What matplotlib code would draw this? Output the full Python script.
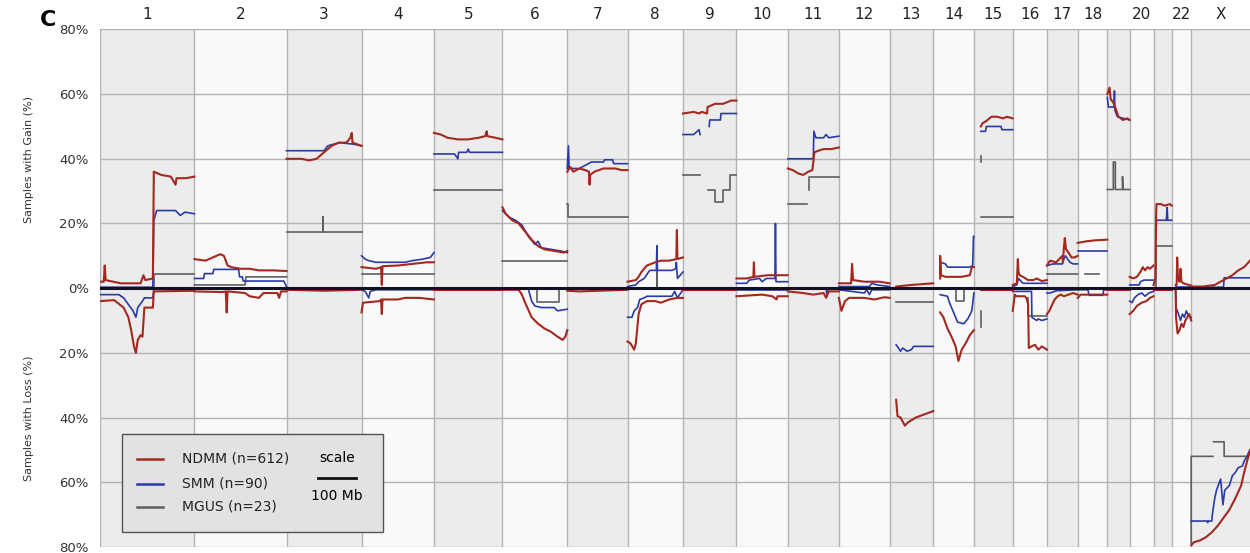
import numpy as np
import matplotlib.pyplot as plt
from matplotlib.patches import Rectangle
import matplotlib.transforms as mtransforms

# chromosome order, sizes (Mb) and the labels printed along the top
CHROMS = [str(i) for i in range(1, 23)] + ["X"]
CHROM_LEN = [249.3, 243.2, 198.0, 191.2, 180.9, 171.1, 159.1, 146.4, 141.2, 135.5,
             135.0, 133.9, 115.2, 107.3, 102.5, 90.4, 81.2, 78.1, 59.1, 63.0,
             48.1, 51.3, 155.3]
CHROM_LABELS = ["1", "2", "3", "4", "5", "6", "7", "8", "9", "10", "11", "12",
                "13", "14", "15", "16", "17", "18", "", "20", "", "22", "X"]

# (position along chromosome 0-1, % of samples); None breaks the line
NDMM_GAIN = {
    "1": [(0, 2), (0.04, 2), (0.05, 7), (0.06, 2.5), (0.22, 1.5), (0.43, 1.5), (0.46, 4), (0.48, 2.5),
          (0.56, 3), (0.57, 36), (0.65, 35), (0.75, 34.5), (0.8, 32), (0.81, 34), (0.91, 34), (1, 34.5)],
    "2": [(0, 9), (0.12, 8.5), (0.2, 9.5), (0.28, 10.5), (0.32, 10), (0.36, 7), (0.4, 6.5), (0.5, 6),
          (0.6, 6), (0.7, 5.5), (0.85, 5.5), (1, 5.3)],
    "3": [(0, 40), (0.2, 40), (0.3, 39.5), (0.4, 40), (0.5, 42), (0.6, 44), (0.7, 45), (0.8, 45),
          (0.85, 46.5), (0.87, 48), (0.88, 45), (1, 44)],
    "4": [(0, 6.5), (0.2, 6), (0.27, 6.5), (0.28, 1), (0.29, 6.8), (0.5, 7), (0.7, 7.5), (0.9, 8), (1, 8)],
    "5": [(0, 48), (0.1, 47.5), (0.2, 46.5), (0.35, 46), (0.5, 46), (0.65, 46.5), (0.75, 47),
          (0.77, 48.5), (0.78, 47), (0.9, 46.5), (1, 46)],
    "6": [(0, 25), (0.05, 23), (0.15, 21), (0.25, 20), (0.35, 17.5), (0.45, 15), (0.55, 13),
          (0.65, 12), (0.8, 11.5), (0.95, 11), (1, 11.5)],
    "7": [(0, 36), (0.05, 37.5), (0.1, 36), (0.2, 37), (0.3, 36.5), (0.36, 36), (0.37, 32), (0.38, 35),
          (0.45, 36), (0.6, 37), (0.8, 37), (0.9, 36.5), (1, 36.5)],
    "8": [(0, 2), (0.15, 2.5), (0.2, 3.5), (0.25, 5), (0.35, 7), (0.5, 8), (0.6, 8.5), (0.75, 8.5),
          (0.88, 9), (0.89, 18), (0.9, 9), (1, 9.5)],
    "9": [(0, 54), (0.2, 54.5), (0.3, 54), (0.35, 54.5), (0.45, 54), (0.46, 56), (0.6, 57), (0.75, 57),
          (0.9, 58), (1, 58)],
    "10": [(0, 3), (0.2, 3), (0.33, 3.5), (0.34, 8), (0.35, 3.5), (0.6, 4), (0.8, 4), (1, 4)],
    "11": [(0, 37), (0.1, 36.5), (0.2, 35.5), (0.3, 35), (0.4, 36), (0.48, 36.5), (0.5, 39), (0.52, 42),
           (0.6, 42.5), (0.7, 43), (0.85, 43), (1, 43.5)],
    "12": [(0, 1.5), (0.24, 1.5), (0.26, 7.5), (0.28, 2.5), (0.5, 2), (0.8, 2), (1, 1.5)],
    "13": [(0.15, 0.5), (0.5, 1), (1, 1.5)],
    "14": [(0.17, 3), (0.17, 10), (0.19, 4), (0.3, 3.5), (0.5, 3.5), (0.7, 3.5), (0.9, 4), (0.95, 6.5),
           (1, 6.5)],
    "15": [(0.18, 50), (0.22, 51), (0.3, 51.5), (0.45, 53), (0.6, 53), (0.75, 52.5), (0.85, 53), (1, 52.5)],
    "16": [(0, 1), (0.12, 1.5), (0.15, 9), (0.17, 5), (0.2, 4), (0.3, 3.5), (0.45, 2.5), (0.6, 2.5),
           (0.7, 3), (0.85, 2.2), (1, 2.5)],
    "17": [(0, 7), (0.1, 8.5), (0.3, 8), (0.4, 9), (0.5, 10), (0.52, 8), (0.55, 12.5), (0.58, 15.5),
           (0.62, 12), (0.7, 11), (0.8, 9.5), (0.9, 9.5), (1, 10)],
    "18": [(0, 14), (0.3, 14.5), (0.6, 14.8), (1, 15)],
    "19": [(0, 60), (0.1, 62), (0.15, 58.5), (0.3, 57), (0.4, 55), (0.5, 53), (0.7, 52), (0.9, 52.5), (1, 52)],
    "20": [(0, 3.5), (0.15, 3), (0.3, 3.5), (0.45, 5), (0.55, 6.5), (0.65, 5.5), (0.75, 6.5), (0.85, 6), (1, 7)],
    "21": [(0, 1), (0.1, 3), (0.12, 10), (0.14, 22), (0.16, 26), (0.4, 26), (0.6, 25.5), (0.9, 26), (1, 25.5)],
    "22": [(0.2, 1), (0.25, 1), (0.28, 9.5), (0.32, 3), (0.4, 2), (0.45, 6), (0.5, 2), (0.6, 1.5), (1, 0.8)],
    "X": [(0, 0.5), (0.2, 0.5), (0.4, 1), (0.5, 2), (0.6, 3), (0.7, 4), (0.8, 5.5), (0.9, 6.5), (1, 8.5)],
}

SMM_GAIN = {
    "1": [(0, 0.3), (0.56, 0.3), (0.57, 21), (0.6, 24), (0.8, 24), (0.85, 22.5), (0.9, 23.5), (1, 23)],
    "2": [(0, 3), (0.1, 3), (0.11, 4.5), (0.2, 4.5), (0.21, 5.8), (0.48, 5.8), (0.49, 3.5), (0.52, 3.5),
          (0.53, 2.2), (0.97, 2.2), (1, 0.5)],
    "3": [(0, 42.5), (0.5, 42.5), (0.55, 44), (0.7, 45), (0.9, 44.5), (1, 44)],
    "4": [(0, 10), (0.05, 9), (0.1, 8.5), (0.2, 8), (0.6, 8), (0.7, 8.5), (0.85, 9), (0.95, 9.5), (1, 11)],
    "5": [(0, 41.5), (0.3, 41.5), (0.35, 40), (0.36, 42), (0.48, 42), (0.5, 43), (0.52, 42), (1, 42)],
    "6": [(0, 24), (0.1, 22), (0.2, 21), (0.3, 19.5), (0.4, 16), (0.5, 13.5), (0.55, 14.5), (0.6, 12.5),
          (0.75, 12), (0.9, 11.5), (1, 11)],
    "7": [(0, 37), (0.02, 44), (0.03, 37), (0.2, 37), (0.35, 38.5), (0.4, 39), (0.6, 39), (0.62, 39.7),
          (0.75, 39.7), (0.77, 38.5), (1, 38.5)],
    "8": [(0, 0.5), (0.15, 1), (0.2, 2), (0.3, 3), (0.4, 5.5), (0.52, 5.5), (0.53, 13), (0.54, 5.5),
          (0.8, 5.5), (0.87, 6), (0.88, 8), (0.9, 3), (1, 5)],
    "9": [(0, 47.5), (0.2, 47.5), (0.3, 49), (0.32, 47.5), None, (0.49, 50), (0.5, 52), (0.7, 52),
          (0.71, 54), (1, 54)],
    "10": [(0, 1.5), (0.2, 1.5), (0.25, 2.5), (0.45, 3), (0.5, 2), (0.58, 3), (0.75, 3), (0.76, 20),
           (0.77, 2), (1, 2)],
    "11": [(0, 40), (0.5, 40), (0.51, 48.5), (0.55, 46.5), (0.7, 46.5), (0.75, 47.5), (0.8, 46.5), (1, 47)],
    "12": [(0, 0.5), (0.6, 0.5), (0.65, 1.5), (0.75, 1), (1, 0.5)],
    "14": [(0.17, 8), (0.3, 7.5), (0.35, 6.5), (0.9, 6.5), (0.97, 7), (0.99, 16), (1, 16)],
    "15": [(0.18, 48.5), (0.3, 48.5), (0.32, 50), (0.7, 50), (0.72, 49), (1, 49)],
    "16": [(0, 0.5), (0.12, 1), (0.17, 3), (0.3, 1.5), (1, 1.5)],
    "17": [(0, 7), (0.2, 7.5), (0.5, 7.5), (0.55, 9), (0.6, 10), (0.75, 8), (0.85, 7.5), (1, 7.5)],
    "18": [(0, 11.5), (1, 11.5)],
    "19": [(0, 59), (0.05, 56), (0.3, 56), (0.32, 61), (0.34, 55), (0.45, 53), (1, 52)],
    "20": [(0, 1), (0.4, 1), (0.45, 2), (0.6, 2.5), (1, 2.5)],
    "21": [(0.14, 18), (0.16, 21), (0.7, 21), (0.75, 25), (0.78, 21), (1, 21)],
    "22": [(0.2, 0.5), (1, 0.5)],
    "X": [(0, 0.3), (0.55, 0.3), (0.56, 3.2), (1, 3.2)],
}

MGUS_GAIN = {
    "1": [(0, 0), (0.57, 0), (0.57, 4.5), (1, 4.5)],
    "2": [(0, 1), (0.55, 1), (0.56, 3.5), (1, 3.5)],
    "3": [(0, 17.5), (0.49, 17.5), (0.49, 22), (0.49, 17.5), (1, 17.5)],
    "4": [(0, 4.5), (1, 4.5)],
    "5": [(0, 30.5), (1, 30.5)],
    "6": [(0, 8.5), (1, 8.5)],
    "7": [(0, 26), (0.01, 26), (0.01, 22), (1, 22)],
    "8": [(0, 0), (0.53, 0), (0.53, 13), (0.53, 0), (1, 0)],
    "9": [(0, 35), (0.32, 35), None, (0.47, 30.5), (0.6, 30.5), (0.6, 26.5), (0.75, 26.5), (0.75, 30.5),
          (0.88, 30.5), (0.88, 35), (1, 35)],
    "11": [(0, 26), (0.37, 26), None, (0.41, 30.5), (0.41, 34.5), (1, 34.5)],
    "15": [(0.18, 39), (0.18, 41), None, (0.18, 22), (1, 22)],
    "17": [(0, 4.5), (1, 4.5)],
    "18": [(0.23, 4.5), (0.73, 4.5)],
    "19": [(0, 30.5), (0.27, 30.5), (0.27, 39), (0.36, 39), (0.36, 30.5), (0.68, 30.5), (0.68, 34.5),
           (0.7, 30.5), (1, 30.5)],
    "21": [(0.14, 0), (0.14, 13), (1, 13)],
}

NDMM_LOSS = {
    "1": [(0, 4), (0.15, 3.7), (0.25, 6), (0.3, 9), (0.33, 13), (0.36, 18), (0.38, 20), (0.4, 16),
          (0.43, 14.5), (0.45, 15), (0.47, 6), (0.56, 6), (0.57, 1), (1, 0.8)],
    "2": [(0, 1), (0.3, 1.2), (0.34, 1), (0.35, 7.5), (0.36, 1), (0.55, 1.5), (0.6, 2.5), (0.7, 3),
          (0.75, 1.5), (0.9, 1.5), (0.92, 3), (0.94, 1), (1, 1)],
    "3": [(0, 0.5), (0.5, 0.8), (1, 0.5)],
    "4": [(0, 7.5), (0.02, 4.5), (0.25, 4), (0.27, 3.5), (0.28, 8), (0.29, 3.5), (0.5, 3.5), (0.6, 3),
          (0.8, 3), (1, 3.5)],
    "5": [(0, 0.5), (1, 0.5)],
    "6": [(0, 0.5), (0.25, 0.5), (0.3, 2), (0.35, 4.5), (0.45, 9), (0.55, 11), (0.65, 12.5), (0.75, 13.5),
          (0.85, 15), (0.93, 16), (0.97, 15), (1, 13)],
    "7": [(0, 0.8), (0.2, 1), (1, 0.5)],
    "8": [(0, 16.5), (0.05, 17), (0.12, 19), (0.15, 17), (0.2, 8), (0.25, 5), (0.35, 4), (0.5, 4),
          (0.6, 4.5), (0.75, 3.5), (0.9, 3), (1, 3)],
    "9": [(0, 0.5), (1, 0.5)],
    "10": [(0, 2.5), (0.2, 2.3), (0.5, 2), (0.7, 2.5), (0.78, 3.5), (0.8, 2.5), (1, 2.5)],
    "11": [(0, 1), (0.3, 1.5), (0.5, 2), (0.7, 1.5), (0.75, 3), (0.8, 1), (1, 1)],
    "12": [(0, 3), (0.05, 7), (0.12, 4), (0.2, 3), (0.5, 3), (0.7, 3.5), (0.9, 2.8), (1, 3)],
    "13": [(0.15, 34.5), (0.18, 39.5), (0.25, 40), (0.35, 42.5), (0.42, 41.5), (0.6, 40), (0.8, 39), (1, 38)],
    "14": [(0.17, 7.5), (0.25, 9), (0.35, 12.5), (0.45, 15), (0.55, 18), (0.62, 22.5), (0.7, 19), (0.8, 17),
           (0.9, 14.5), (1, 13)],
    "15": [(0.18, 0.5), (1, 0.5)],
    "16": [(0, 7), (0.06, 2), (0.1, 2.5), (0.35, 2.5), (0.4, 3), (0.45, 5), (0.47, 18.5), (0.55, 18),
           (0.65, 17.5), (0.75, 19), (0.85, 18), (1, 19)],
    "17": [(0, 8), (0.08, 7), (0.15, 5.5), (0.25, 3.5), (0.35, 2.5), (0.45, 2), (0.55, 2.5), (0.7, 2),
           (0.85, 1.5), (1, 2)],
    "18": [(0, 3), (0.1, 2), (1, 2)],
    "19": [(0, 0.5), (1, 0.5)],
    "20": [(0, 8), (0.15, 7), (0.3, 5.5), (0.5, 4.5), (0.7, 4), (0.85, 3), (1, 2.5)],
    "21": [(0, 0.5), (1, 0.5)],
    "22": [(0.2, 0.5), (0.22, 9), (0.3, 14), (0.4, 13), (0.5, 11), (0.6, 12), (0.7, 10), (0.8, 9),
           (0.9, 8), (1, 10)],
    "X": [(0, 79.5), (0.05, 78.5), (0.15, 78), (0.25, 77), (0.35, 75.5), (0.45, 73.5), (0.55, 71),
          (0.65, 68.5), (0.75, 65), (0.85, 61), (0.9, 57), (0.95, 53.5), (1, 50.5)],
}

SMM_LOSS = {
    "1": [(0, 2), (0.2, 2), (0.25, 3), (0.3, 5), (0.35, 7), (0.38, 9), (0.4, 6), (0.45, 4), (0.47, 3),
          (0.56, 3), (0.57, 0.3), (1, 0.3)],
    "4": [(0, 0.5), (0.05, 1), (0.1, 3), (0.12, 1), (0.2, 0.5), (1, 0.5)],
    "6": [(0, 0.3), (0.4, 0.3), (0.45, 4), (0.5, 5.5), (0.6, 6), (0.8, 6), (0.85, 7), (1, 6.5)],
    "8": [(0, 9), (0.08, 9), (0.12, 7), (0.18, 6), (0.22, 3.5), (0.3, 3), (0.35, 2.5), (0.8, 2.5),
          (0.85, 1), (0.9, 3), (1, 0.5)],
    "10": [(0, 0.5), (1, 0.5)],
    "11": [(0, 0.3), (0.75, 0.3), (0.77, 2.5), (0.79, 0.3), (1, 0.3)],
    "12": [(0, 0.5), (0.5, 1.5), (0.55, 0.5), (0.6, 2), (0.65, 0.5), (1, 0.5)],
    "13": [(0.15, 17.5), (0.2, 18.5), (0.25, 19.5), (0.3, 18.5), (0.4, 19.5), (0.5, 19), (0.55, 18), (1, 18)],
    "14": [(0.17, 2), (0.35, 2.5), (0.4, 4.5), (0.5, 7.5), (0.6, 10.5), (0.75, 11), (0.85, 9.5), (0.95, 7),
           (1, 1.5)],
    "16": [(0, 1), (0.55, 1), (0.56, 9), (0.7, 10), (0.75, 9.5), (0.85, 10), (1, 9.5)],
    "17": [(0, 1.5), (0.1, 1.5), (0.3, 0.8), (1, 0.5)],
    "18": [(0, 0.5), (0.35, 0.5), (0.38, 2.2), (0.85, 2.2), (0.88, 0.5), (1, 0.5)],
    "20": [(0, 4), (0.1, 4.5), (0.2, 3), (0.35, 2), (0.5, 1.5), (0.65, 2.5), (0.8, 1.5), (1, 1)],
    "22": [(0.2, 0.5), (0.22, 6), (0.35, 8), (0.45, 10), (0.55, 8), (0.65, 9), (0.75, 7), (0.85, 8.5), (1, 9)],
    "X": [(0, 72), (0.27, 72), (0.28, 72.5), (0.29, 72), (0.35, 72), (0.36, 70), (0.4, 65), (0.43, 62.5),
          (0.5, 59), (0.54, 67), (0.57, 62.5), (0.65, 61), (0.7, 58), (0.75, 57), (0.8, 55.5), (0.87, 55),
          (0.9, 53.5), (0.95, 52), (1, 50)],
}

MGUS_LOSS = {
    "6": [(0.5, 0), (0.53, 0), (0.53, 4.3), (0.87, 4.3), (0.87, 0)],
    "13": [(0.15, 4.3), (1, 4.3)],
    "14": [(0.55, 0), (0.55, 4), (0.75, 4), (0.75, 0)],
    "15": [(0.18, 7), (0.18, 12)],
    "16": [(0.44, 3), (0.44, 8.5), (1, 8.5)],
    "X": [(0, 79), (0, 52), (0.37, 52), None, (0.38, 47.5), (0.56, 47.5), (0.56, 52), (0.95, 52), (1, 50)],
}

SERIES = [
    ("MGUS (n=23)", "#5f5f5f", 1.2, MGUS_GAIN, MGUS_LOSS),
    ("SMM (n=90)", "#2b3aa6", 1.2, SMM_GAIN, SMM_LOSS),
    ("NDMM (n=612)", "#a3281f", 1.5, NDMM_GAIN, NDMM_LOSS),
]

starts = np.concatenate([[0], np.cumsum(CHROM_LEN)[:-1]])
total = float(np.sum(CHROM_LEN))


def to_xy(chrom, pts, sign):
    i = CHROMS.index(chrom)
    xs, ys = [], []
    for p in pts:
        if p is None:
            xs.append(np.nan)
            ys.append(np.nan)
        else:
            xs.append(starts[i] + p[0] * CHROM_LEN[i])
            ys.append(sign * p[1])
    return xs, ys


plt.rcParams['font.family'] = ['DejaVu Sans']
fig = plt.figure(figsize=(12.5, 5.53), dpi=100)
ax = fig.add_axes([0.08, 0.011, 0.92, 0.9358])

# alternating chromosome bands
for i, c in enumerate(CHROMS):
    col = "#ececec" if i % 2 == 0 else "#f9f9f9"
    ax.axvspan(starts[i], starts[i] + CHROM_LEN[i], color=col, lw=0, zorder=0)
    ax.axvline(starts[i], color="#b3b3b3", lw=1.0, zorder=1)
for yv in range(-80, 81, 20):
    if yv != 0:
        ax.axhline(yv, color="#b3b3b3", lw=1.0, zorder=1)

for name, color, lw, gain, loss in SERIES:
    for c, pts in gain.items():
        xs, ys = to_xy(c, pts, 1)
        ax.plot(xs, ys, color=color, lw=lw, zorder=3)
    for c, pts in loss.items():
        xs, ys = to_xy(c, pts, -1)
        ax.plot(xs, ys, color=color, lw=lw, zorder=3)

ax.axhline(0, color="#111122", lw=2.2, zorder=4)

ax.set_xlim(0, total)
ax.set_ylim(-80, 80)
ax.set_yticks(range(-80, 81, 20))
ax.set_yticklabels([f"{abs(v)}%" for v in range(-80, 81, 20)], fontsize=9.5, color="#333333")
ax.xaxis.tick_top()
ax.set_xticks(starts + np.array(CHROM_LEN) / 2)
ax.set_xticklabels(CHROM_LABELS, fontsize=11, color="#222222")
ax.tick_params(axis="both", length=0)
ax.tick_params(axis="y", pad=8)
ax.tick_params(axis="x", pad=5)
for s in ax.spines.values():
    s.set_visible(False)

fig.text(0.023, 0.711, "Samples with Gain (%)", rotation=90, ha="center", va="center",
         fontsize=8, color="#333333")
fig.text(0.023, 0.244, "Samples with Loss (%)", rotation=90, ha="center", va="center",
         fontsize=8, color="#333333")
fig.text(0.032, 0.963, "C", fontsize=16, fontweight="bold", ha="left", va="center")

# legend box with the size scale
ax.add_patch(Rectangle((0.0191, 0.029), 0.227, 0.189, transform=ax.transAxes,
                       facecolor="#e2e2e2", edgecolor="#555555", lw=1.0, zorder=5))
leg_y = [0.170, 0.1217, 0.0773]
for (name, color, lw, _, _), yy in zip(SERIES[::-1], leg_y):
    ax.plot([0.0322, 0.0548], [yy, yy], transform=ax.transAxes, color=color, lw=1.8, zorder=6)
    ax.text(0.0713, yy, name, transform=ax.transAxes, fontsize=10, va="center", ha="left",
            color="#222222", zorder=6)
blend = mtransforms.blended_transform_factory(ax.transData, ax.transAxes)
scale_mid = 626
ax.text(scale_mid, 0.172, "scale", transform=blend, fontsize=10, ha="center", va="center", zorder=6)
ax.plot([scale_mid - 50, scale_mid + 50], [0.133, 0.133], transform=blend, color="#111111", lw=2, zorder=6)
ax.text(scale_mid, 0.098, "100 Mb", transform=blend, fontsize=10, ha="center", va="center", zorder=6)

fig.savefig("out.png", dpi=100, facecolor="white")
